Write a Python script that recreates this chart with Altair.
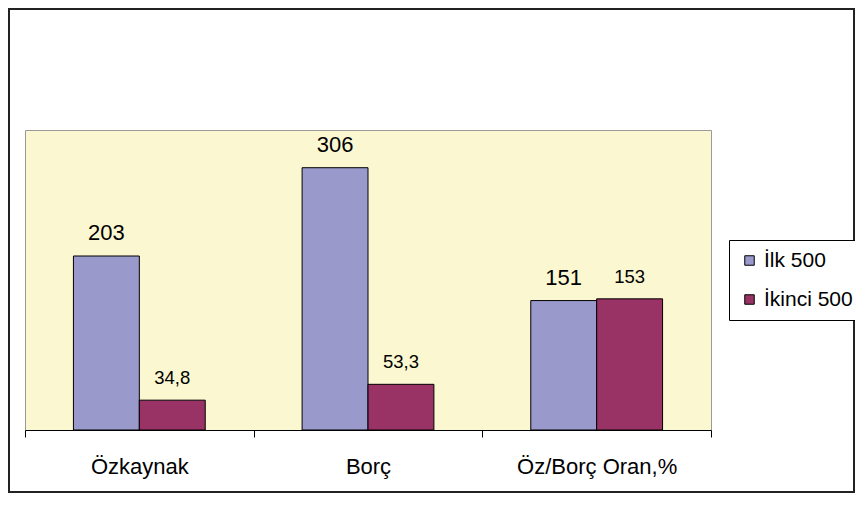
import altair as alt
import pandas as pd

categories = ["Özkaynak", "Borç", "Öz/Borç Oran,%"]
series = ["İlk 500", "İkinci 500"]
ilk_500 = [203, 306, 151]
ikinci_500 = [34.8, 53.3, 153]
ilk_labels = ["203", "306", "151"]
ikinci_labels = ["34,8", "53,3", "153"]
colors = ["#9999CC", "#993366"]

rows = []
for i, c in enumerate(categories):
    rows.append({"cat": c, "series": series[0], "value": ilk_500[i], "label": ilk_labels[i]})
    rows.append({"cat": c, "series": series[1], "value": ikinci_500[i], "label": ikinci_labels[i]})
df = pd.DataFrame(rows)

FONT = "Liberation Sans"

x = alt.X(
    "cat:N",
    sort=categories,
    scale=alt.Scale(paddingInner=0, paddingOuter=0),
    axis=alt.Axis(
        title=None, labelAngle=0, tickBand="extent", domainColor="black",
        tickColor="black", tickSize=7, labelFont=FONT, labelFontSize=22,
        labelColor="black", labelPadding=36, labelBaseline="alphabetic",
        domainWidth=1, tickWidth=1, grid=False,
    ),
)
xo = alt.XOffset("series:N", sort=series, scale=alt.Scale(paddingInner=0, paddingOuter=0.735))
y = alt.Y("value:Q", scale=alt.Scale(domain=[0, 350], nice=False), axis=None)
color = alt.Color(
    "series:N", sort=series,
    scale=alt.Scale(domain=series, range=colors),
    legend=alt.Legend(
        title=None, orient="none", legendX=704, legendY=110,
        strokeColor="black", fillColor="white", padding=10, rowPadding=17,
        labelFontSize=21, labelFont=FONT, labelColor="black",
        symbolType="square", symbolSize=90, symbolStrokeColor="black",
        symbolStrokeWidth=1, labelOffset=4, symbolOpacity=1,
    ),
)

bars = alt.Chart(df).mark_bar(stroke="black", strokeWidth=1, opacity=1).encode(
    x=x, xOffset=xo, y=y, color=color
)

text1 = alt.Chart(df).transform_filter(
    alt.datum.series == series[0]
).mark_text(baseline="alphabetic", dy=-16, font=FONT, color="black", fontSize=22).encode(
    x=x, xOffset=xo, y=y, text="label:N"
)
text2 = alt.Chart(df).transform_filter(
    alt.datum.series == series[1]
).mark_text(baseline="alphabetic", dy=-16, font=FONT, color="black", fontSize=18.5).encode(
    x=x, xOffset=xo, y=y, text="label:N"
)

frame = alt.Chart(pd.DataFrame({"k": [0]})).mark_rect(
    filled=False, stroke="#222222", strokeWidth=2
).encode(
    x=alt.value(-16), x2=alt.value(829), y=alt.value(-121), y2=alt.value(362)
)

chart = alt.layer(frame, bars, text1, text2).properties(
    width=686, height=300,
    autosize=alt.AutoSizeParams(type="none"),
    padding={"left": 17, "top": 122, "right": 144, "bottom": 63},
    background="white",
).configure_view(fill="#FBF8D1", stroke="#9a9a9a", strokeWidth=1)

chart.save("out.html", embed_options={"renderer": "svg", "actions": False})
